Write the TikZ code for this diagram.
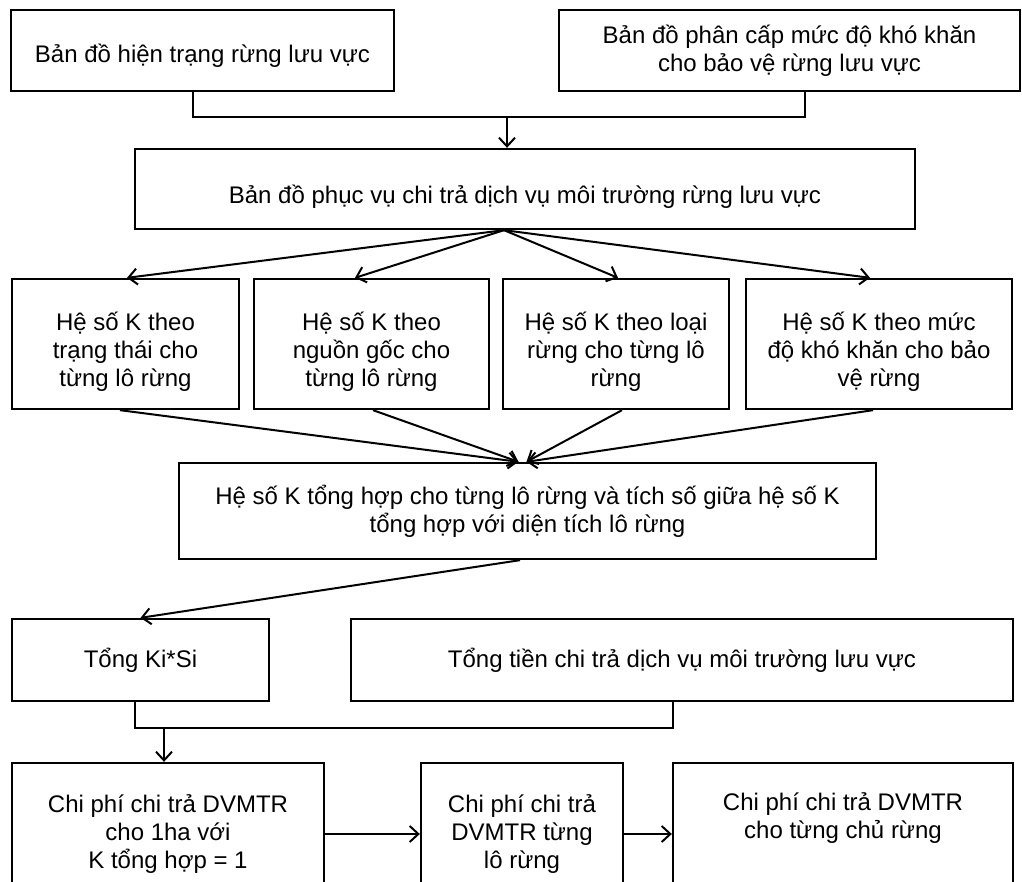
\documentclass[tikz,border=0pt]{standalone}
\usepackage{fontspec}
\setmainfont{Liberation Sans}
\usetikzlibrary{arrows.meta,calc}
\newcommand{\dn}[1]{\rule{0pt}{#1}}
\tikzset{
  box/.style={draw=black, line width=1.75pt, fill=white, align=center, inner sep=2pt,
    font=\fontsize{18}{21}\selectfont},
  arr/.style={line width=1.5pt, -{Straight Barb[length=6.5pt,width=12pt,line width=1.5pt]}},
  conn/.style={line width=1.5pt}
}
\begin{document}
\begin{tikzpicture}[x=0.75pt,y=-0.75pt]
\useasboundingbox (0,0) rectangle (1022,882);
\clip (0,0) rectangle (1022,882);
% top row
\node[box, minimum width=383*0.75pt, minimum height=81*0.75pt] (b1) at (202.5,50.5) {\dn{21pt}Bản đồ hiện trạng rừng lưu vực};
\node[box, minimum width=461*0.75pt, minimum height=81*0.75pt] (b2) at (789.5,50.5) {Bản đồ phân cấp mức độ khó khăn\\cho bảo vệ rừng lưu vực};
\node[box, minimum width=780*0.75pt, minimum height=80*0.75pt] (b3) at (525,189) {\dn{26pt}Bản đồ phục vụ chi trả dịch vụ môi trường rừng lưu vực};
% four K boxes
\node[box, minimum width=227*0.75pt, minimum height=130*0.75pt] (kA) at (125.5,344) {\dn{26pt}Hệ số K theo\\trạng thái cho\\từng lô rừng};
\node[box, minimum width=235*0.75pt, minimum height=130*0.75pt] (kB) at (371.5,344) {\dn{26pt}Hệ số K theo\\nguồn gốc cho\\từng lô rừng};
\node[box, minimum width=226*0.75pt, minimum height=130*0.75pt] (kC) at (616,344) {\dn{26pt}Hệ số K theo loại\\rừng cho từng lô\\rừng};
\node[box, minimum width=266*0.75pt, minimum height=130*0.75pt] (kD) at (879,344) {\dn{26pt}Hệ số K theo mức\\độ khó khăn cho bảo\\vệ rừng};
% middle
\node[box, minimum width=697*0.75pt, minimum height=96*0.75pt] (mid) at (527.5,511) {Hệ số K tổng hợp cho từng lô rừng và tích số giữa hệ số K\\tổng hợp với diện tích lô rừng};
% sums
\node[box, minimum width=257*0.75pt, minimum height=82*0.75pt] (t1) at (140.5,660) {Tổng Ki*Si};
\node[box, minimum width=662*0.75pt, minimum height=82*0.75pt] (t2) at (682,660) {Tổng tiền chi trả dịch vụ môi trường lưu vực};
% bottom
\node[box, minimum width=312*0.75pt, minimum height=142*0.75pt] (e) at (168,834) {Chi phí chi trả DVMTR\\cho 1ha với\\K tổng hợp = 1};
\node[box, minimum width=202*0.75pt, minimum height=142*0.75pt] (f) at (522,834) {Chi phí chi trả\\DVMTR từng\\lô rừng};
\node[box, minimum width=340*0.75pt, minimum height=142*0.75pt] (g) at (843,834) {Chi phí chi trả DVMTR\\cho từng chủ rừng\\\strut};
% connectors top
\coordinate (j1) at (507,117);
\draw[conn] ($(b1.south)+(-9.5,0)$) |- (j1) -| ($(b2.south)+(15.5,0)$);
\draw[arr] (j1) -- (b3.north -| j1);
% b3 to K boxes
\coordinate (s1) at ($(b3.south)+(-21,0)$);
\draw[arr] (s1) -- ($(kA.north)+(1.5,0)$);
\draw[arr] (s1) -- ($(kB.north)+(-16.5,0)$);
\draw[arr] (s1) -- ($(kC.north)+(2,0)$);
\draw[arr] (s1) -- ($(kD.north)+(-9,0)$);
% K boxes to mid
\coordinate (m1) at ($(mid.north)+(-9,0)$);
\coordinate (m2) at ($(mid.north)+(-1,0)$);
\draw[arr] ($(kA.south)+(-5.5,0)$) -- (m1);
\draw[arr] ($(kB.south)+(1.5,0)$) -- (m1);
\draw[arr] ($(kC.south)+(6,0)$) -- (m2);
\draw[arr] ($(kD.south)+(-6,0)$) -- (m2);
% mid to t1
\draw[arr] ($(mid.south)+(-7.5,0)$) -- (t1.north);
% sums junction
\coordinate (j2) at (164,728);
\draw[conn] ($(t1.south)+(-5.5,0)$) |- (j2) -| ($(t2.south)+(-9,0)$);
\draw[arr] (j2) -- (e.north -| j2);
% bottom row
\draw[arr] (e.east) -- (f.west);
\draw[arr] (f.east) -- (g.west);
\end{tikzpicture}
\end{document}
